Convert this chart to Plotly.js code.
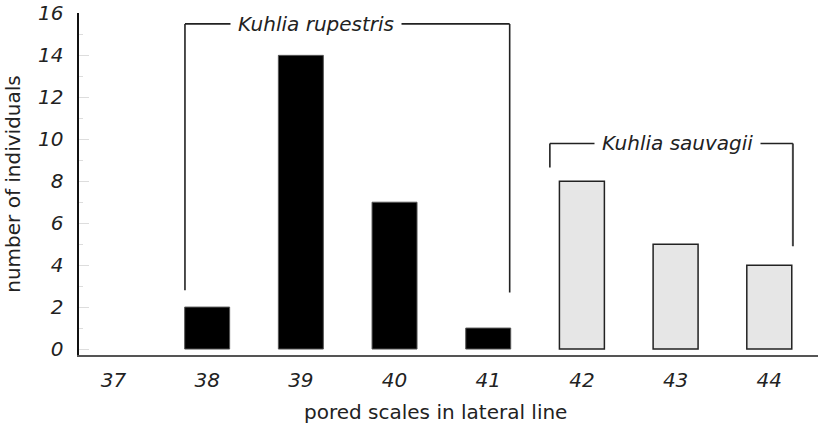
<!DOCTYPE html>
<html>
<head>
<meta charset="utf-8">
<script src="https://cdn.plot.ly/plotly-3.0.1.min.js"></script>
<style>
  html, body { margin: 0; padding: 0; background: #ffffff; }
  #chart { width: 818px; height: 430px; }
</style>
</head>
<body>
<div id="chart"></div>
<script>
// ---- data ----
const categories = [37, 38, 39, 40, 41, 42, 43, 44];
const rupestrisScales = [37, 38, 39, 40, 41];
const rupestrisCounts = [0, 2, 14, 7, 1];
const sauvagiiScales = [42, 43, 44];
const sauvagiiCounts = [8, 5, 4];
const yTicks = [0, 2, 4, 6, 8, 10, 12, 14, 16];
const groupLabels = ["Kuhlia rupestris", "Kuhlia sauvagii"];
const xTitle = "pored scales in lateral line";
const yTitle = "number of individuals";

const FONT = "DejaVu Sans, Liberation Sans, Arial, sans-serif";
const TXT = "#222222";

const traces = [
  {
    type: "bar", x: rupestrisScales, y: rupestrisCounts, width: 0.48,
    marker: {
      color: "#000000",
      line: { color: "#555555", width: rupestrisCounts.map(v => (v > 0 ? 1 : 0)) }
    },
    hoverinfo: "x+y", showlegend: false
  },
  {
    type: "bar", x: sauvagiiScales, y: sauvagiiCounts, width: 0.48,
    marker: { color: "#e6e6e6", line: { color: "#222222", width: 1.5 } },
    hoverinfo: "x+y", showlegend: false
  }
];

// bracket geometry (data coordinates, relative to categories)
const rL = 37.763, rR = 41.229, rTop = 15.5, rBotL = 2.8, rBotR = 2.7, rText = 39.16;
const sL = 41.658, sR = 44.252, sTop = 9.8, sBotL = 8.65, sBotR = 4.9, sText = 43.025;
const bracketLine = { color: "#222222", width: 1.6 };

const shapes = [
  { type: "line", xref: "x", yref: "y", x0: rL, x1: rL, y0: rBotL, y1: rTop, line: bracketLine },
  { type: "line", xref: "x", yref: "y", x0: rR, x1: rR, y0: rBotR, y1: rTop, line: bracketLine },
  { type: "line", xref: "x", yref: "y", x0: rL, x1: rR, y0: rTop, y1: rTop, line: bracketLine },
  { type: "line", xref: "x", yref: "y", x0: sL, x1: sL, y0: sBotL, y1: sTop, line: bracketLine },
  { type: "line", xref: "x", yref: "y", x0: sR, x1: sR, y0: sBotR, y1: sTop, line: { color: "#444444", width: 2 } },
  { type: "line", xref: "x", yref: "y", x0: sL, x1: sR, y0: sTop, y1: sTop, line: bracketLine }
];

const annotations = [
  {
    xref: "x", yref: "y", x: rText, y: rTop, text: groupLabels[0],
    showarrow: false, bgcolor: "#ffffff", borderpad: 7,
    font: { family: FONT, size: 20, style: "italic", color: TXT }
  },
  {
    xref: "x", yref: "y", x: sText, y: sTop, text: groupLabels[1],
    showarrow: false, bgcolor: "#ffffff", borderpad: 7,
    font: { family: FONT, size: 20, style: "italic", color: TXT }
  },
  {
    xref: "paper", yref: "paper", x: 0.482, y: 0, yshift: -57, yanchor: "middle",
    text: xTitle, showarrow: false,
    font: { family: FONT, size: 20, color: TXT }
  }
];

const layout = {
  width: 818, height: 430,
  margin: { l: 79, r: 0, t: 13, b: 75 },
  paper_bgcolor: "#ffffff", plot_bgcolor: "#ffffff",
  font: { family: FONT, color: TXT },
  xaxis: {
    range: [36.632, 44.52],
    tickmode: "array", tickvals: categories, ticktext: categories.map(String),
    showline: true, linecolor: "#555555", linewidth: 2,
    ticks: "", showgrid: false, zeroline: false,
    tickfont: { family: FONT, size: 20, style: "italic", color: TXT },
    ticklabelstandoff: 6,
    fixedrange: true
  },
  yaxis: {
    range: [-0.284, 16.02],
    tickmode: "array", tickvals: yTicks, ticktext: yTicks.map(String),
    showline: true, linecolor: "#111111", linewidth: 1.6,
    ticks: "inside", ticklen: 10, tickwidth: 1, tickcolor: "#dddddd",
    minor: { ticks: "inside", ticklen: 4, dtick: 1, tickcolor: "#dddddd", tickwidth: 1, showgrid: false },
    showgrid: false, zeroline: false,
    tickfont: { family: FONT, size: 20, style: "italic", color: TXT },
    ticklabelstandoff: 10,
    title: { text: yTitle, standoff: 12, font: { family: FONT, size: 20, color: TXT } },
    fixedrange: true
  },
  shapes: shapes,
  annotations: annotations
};

Plotly.newPlot("chart", traces, layout, { displayModeBar: false, staticPlot: true });
</script>
</body>
</html>
